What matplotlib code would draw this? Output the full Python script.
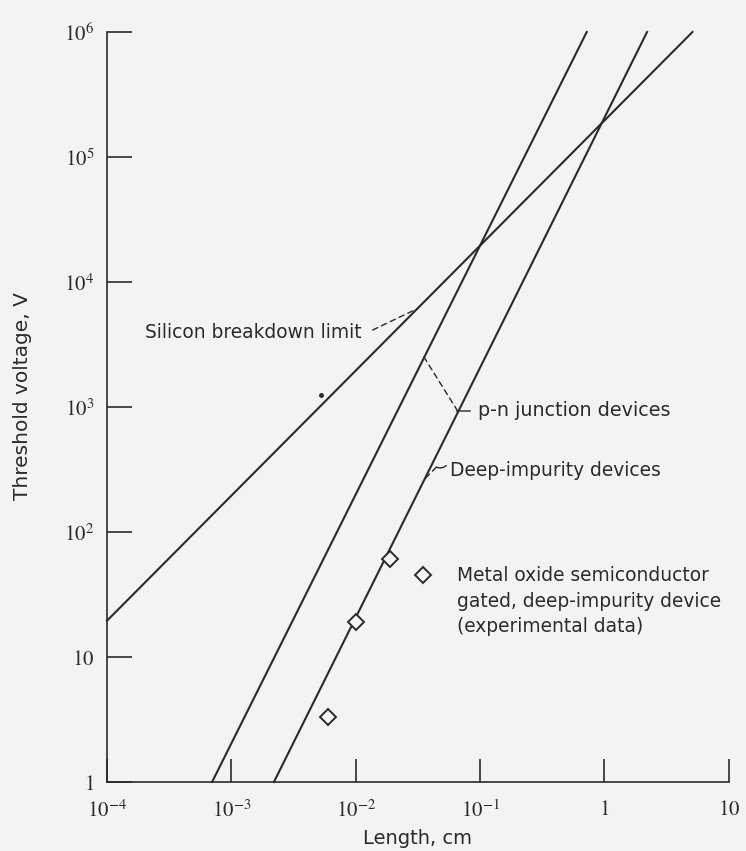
import numpy as np
import matplotlib.pyplot as plt
from matplotlib.ticker import FixedLocator, FixedFormatter

plt.rcParams['font.family'] = ['DejaVu Sans']
plt.rcParams['mathtext.fontset'] = 'stix'

# axis ticks
x_ticks = [1e-4, 1e-3, 1e-2, 1e-1, 1, 10]
x_labels = ['$10^{-4}$', '$10^{-3}$', '$10^{-2}$', '$10^{-1}$', '$1$', '$10$']
y_ticks = [1, 10, 1e2, 1e3, 1e4, 1e5, 1e6]
y_labels = ['$1$', '$10$', '$10^{2}$', '$10^{3}$', '$10^{4}$', '$10^{5}$', '$10^{6}$']

# line end points (length cm, threshold voltage V)
si_len = [1e-4, 5.1]
si_volt = [19.5, 1.0e6]
pn_len = [7.0e-4, 0.72]
pn_volt = [1.0, 1.0e6]
deep_len = [2.2e-3, 2.2]
deep_volt = [1.0, 1.0e6]

# experimental data (MOS gated, deep-impurity device)
mos_len = [6.0e-3, 1.0e-2, 1.9e-2]
mos_volt = [3.3, 19.0, 61.0]

# stray dot on the scan
dot_len = [5.3e-3]
dot_volt = [1250]

ink = '#2a2a2a'
bg = '#f3f3f3'
fs = 13.4

fig = plt.figure(figsize=(7.46, 8.51), dpi=100, facecolor=bg)
ax = fig.add_axes([0.1434, 0.0811, 0.8336, 0.8813])
ax.set_facecolor(bg)
ax.set_xscale('log')
ax.set_yscale('log')
ax.set_xlim(1e-4, 10)
ax.set_ylim(1, 1e6)

ax.plot(si_len, si_volt, color=ink, lw=1.5, clip_on=False)
ax.plot(pn_len, pn_volt, color=ink, lw=1.5, clip_on=False)
ax.plot(deep_len, deep_volt, color=ink, lw=1.5, clip_on=False)
ax.plot(mos_len, mos_volt, 'D', ms=8.5, mfc=bg, mec=ink, mew=1.4, ls='none')
ax.plot(dot_len, dot_volt, 'o', ms=2.5, color=ink)

for s in ['top', 'right']:
    ax.spines[s].set_visible(False)
for s in ['left', 'bottom']:
    ax.spines[s].set_color(ink)
    ax.spines[s].set_linewidth(1.2)

ax.xaxis.set_major_locator(FixedLocator(x_ticks))
ax.xaxis.set_major_formatter(FixedFormatter(x_labels))
ax.yaxis.set_major_locator(FixedLocator(y_ticks))
ax.yaxis.set_major_formatter(FixedFormatter(y_labels))
ax.minorticks_off()
ax.tick_params(axis='x', direction='in', length=16.5, width=1.2, color=ink,
               labelsize=15, pad=12.5, labelcolor=ink)
ax.tick_params(axis='y', direction='in', length=18, width=1.2, color=ink,
               labelsize=15, pad=9, labelcolor=ink)

ax.set_xlabel('Length, cm', fontsize=14, color=ink, labelpad=6)
ax.set_ylabel('Threshold voltage, V', fontsize=14.5, color=ink)
ax.yaxis.set_label_coords(-0.12, 0.515)

# labels with leaders
dash = dict(arrowstyle='-', linestyle=(0, (4, 3)), color=ink, lw=1.0,
            shrinkA=0, shrinkB=0)
solid = dict(arrowstyle='-', color=ink, lw=1.0, shrinkA=0, shrinkB=0)

ax.text(0.0112, 3910, 'Silicon breakdown limit', ha='right', va='center',
        fontsize=fs, color=ink)
ax.annotate('', xy=(0.0315, 6140), xytext=(0.0137, 4130), arrowprops=dash)

ax.text(0.0955, 946, 'p-n junction devices', ha='left', va='center',
        fontsize=13.8, color=ink)
ax.annotate('', xy=(0.0352, 2530), xytext=(0.066, 929), arrowprops=dash)
ax.annotate('', xy=(0.0645, 929), xytext=(0.0835, 929), arrowprops=solid)

ax.text(0.0569, 313, 'Deep-impurity devices', ha='left', va='center',
        fontsize=fs, color=ink)
ax.annotate('', xy=(0.0358, 265), xytext=(0.0445, 330), arrowprops=dash)
ax.annotate('', xy=(0.0445, 330), xytext=(0.0535, 340),
            arrowprops=dict(solid, connectionstyle='arc3,rad=-0.3'))

# key for the diamonds
ax.plot([0.0345], [45], 'D', ms=8, mfc=bg, mec=ink, mew=1.4)
ax.text(0.0647, 53.5, 'Metal oxide semiconductor\ngated, deep-impurity device\n(experimental data)',
        ha='left', va='top', fontsize=fs, color=ink, linespacing=1.45)

fig.savefig('out.png', dpi=100, facecolor=bg)
